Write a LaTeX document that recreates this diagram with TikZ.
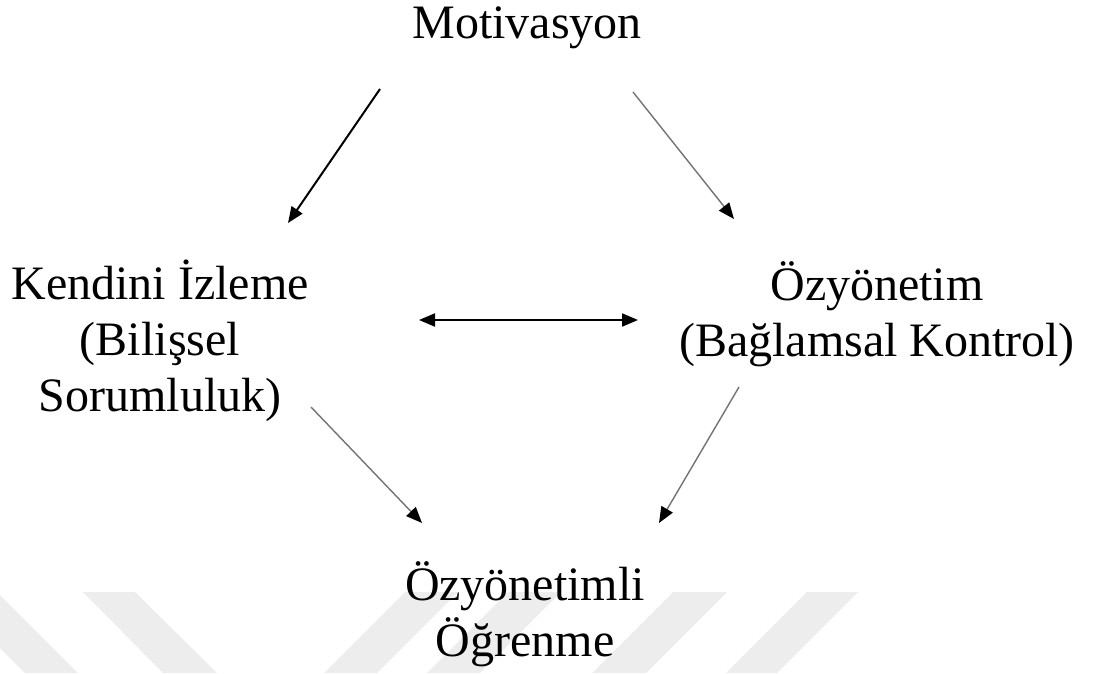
\documentclass[tikz,border=0pt]{standalone}
\usepackage{fontspec}
\setmainfont{Liberation Serif}
\usetikzlibrary{arrows.meta}
\begin{document}
\begin{tikzpicture}[x=1pt,y=-1pt,
  lbl/.style={inner sep=0pt,align=center,font=\fontsize{48}{56}\selectfont},
  darrow/.style={line width=2pt,draw=black,-{Triangle[length=16pt,width=13pt]}},
  garrow/.style={line width=1.4pt,draw=black!55,-{Triangle[length=16pt,width=13pt,color=black]}},
  wm/.style={fill=black!7,draw=none}]
\useasboundingbox (0,0) rectangle (1109,673);
% watermark stripes
\fill[wm] (-56,592) -- (-3,592) -- (78,673) -- (25,673) -- cycle;
\fill[wm] (83,592) -- (135,592) -- (217,673) -- (163,673) -- cycle;
\fill[wm] (405,592) -- (458,592) -- (377,673) -- (324,673) -- cycle;
\fill[wm] (508,592) -- (561,592) -- (480,673) -- (427,673) -- cycle;
\fill[wm] (673,592) -- (727,592) -- (646,673) -- (592,673) -- cycle;
\fill[wm] (807,592) -- (858,592) -- (777,673) -- (726,673) -- cycle;
% nodes
\node[lbl,anchor=base] (mot) at (527,38) {Motivasyon};
\node[lbl] (kiz) at (160,341) {Kendini İzleme\\(Bilişsel\\Sorumluluk)};
\node[lbl] (ozy) at (877,314) {Özyönetim\\(Bağlamsal Kontrol)};
\node[lbl] (ozo) at (525,614) {Özyönetimli\\Öğrenme};
% connector end points
\coordinate (m1) at (380,89);
\coordinate (k1) at (288,223);
\coordinate (m2) at (633,92);
\coordinate (o1) at (734,219);
\coordinate (k2) at (419,320);
\coordinate (o2) at (638,320);
\coordinate (k3) at (311,407);
\coordinate (b1) at (422,523);
\coordinate (o3) at (739,387);
\coordinate (b2) at (659,523);
% connectors
\draw[darrow] (m1) -- (k1);
\draw[garrow] (m2) -- (o1);
\draw[line width=2pt,{Triangle[length=16pt,width=13pt]}-{Triangle[length=16pt,width=13pt]}] (k2) -- (o2);
\draw[garrow] (k3) -- (b1);
\draw[garrow] (o3) -- (b2);
\end{tikzpicture}
\end{document}
